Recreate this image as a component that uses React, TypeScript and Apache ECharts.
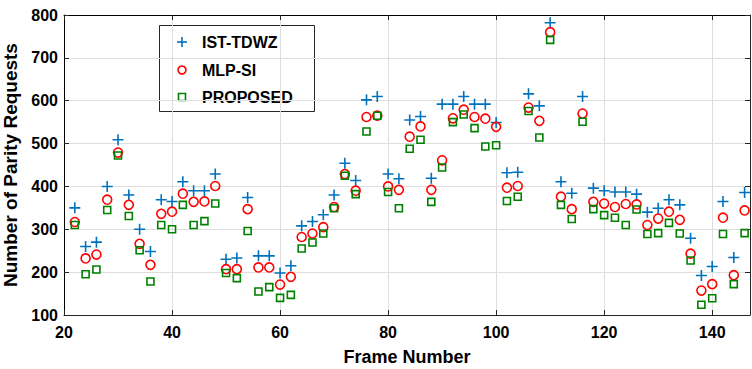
import React, { useEffect, useRef } from "react";
import * as echarts from "echarts";

// Frame numbers (x) shared by all three methods
const frames = [
  22, 24, 26, 28, 30, 32, 34, 36, 38, 40, 42, 44, 46, 48, 50, 52, 54, 56, 58, 60,
  62, 64, 66, 68, 70, 72, 74, 76, 78, 80, 82, 84, 86, 88, 90, 92, 94, 96, 98, 100,
  102, 104, 106, 108, 110, 112, 114, 116, 118, 120, 122, 124, 126, 128, 130, 132,
  134, 136, 138, 140, 142, 144, 146,
];

// Number of parity requests per frame
const istTdwz = [
  350, 260, 270, 400, 509, 380, 300, 248, 369, 365, 411, 390, 390, 429, 230, 233, 374, 238, 238, 198,
  215, 308, 318, 334, 380, 454, 414, 602, 610, 429, 418, 555, 563, 419, 592, 592, 610, 592, 592, 549,
  432, 433, 616, 588, 782, 411, 384, 610, 396, 390, 387, 387, 382, 340, 349, 369,
  357, 279, 192, 213, 365, 234, 386,
];

const mlpSi = [
  317, 232, 241, 369, 479, 357, 266, 217, 336, 341, 383, 364, 365, 401, 207, 207, 347, 211, 211, 171,
  189, 282, 290, 305, 352, 429, 390, 562, 565, 400, 392, 516, 540, 392, 461, 559, 579, 562, 558, 539,
  397, 401, 584, 553, 760, 376, 347, 570, 364, 360, 352, 359, 358, 310, 325, 341,
  322, 243, 157, 172, 327, 193, 344,
];

const proposed = [
  310, 195, 206, 345, 472, 331, 251, 178, 310, 300, 357, 310, 319, 360, 198, 186, 296, 155, 165, 140,
  147, 255, 269, 290, 349, 425, 382, 528, 565, 387, 349, 488, 509, 364, 444, 550, 568, 536, 493, 496,
  366, 376, 576, 514, 742, 357, 324, 551, 347, 333, 327, 310, 346, 289, 291, 315,
  290, 227, 124, 139, 289, 172, 291,
];

const seriesNames = ["IST-TDWZ", "MLP-SI", "PROPOSED"];

const BLUE = "#0072BD";
const RED = "#FF0000";
const GREEN = "#008000";
const AXIS = "#262626";
const GRID = "#dedede";
const FONT = "'Liberation Sans', Arial, Helvetica, sans-serif";

const PLUS = "path://M0,5H10M5,0V10";

const pairs = (ys: number[]) => frames.map((f, i) => [f, ys[i]]);

export default function App() {
  const ref = useRef<HTMLDivElement>(null);

  useEffect(() => {
    document.body.style.margin = "0";
    if (!ref.current) return;
    const chart = echarts.init(ref.current, undefined, { renderer: "svg" });

    const plotLeft = 64;
    const plotTop = 15;
    const plotRight = 750;
    const plotBottom = 315;

    const tickLabel = {
      fontFamily: FONT,
      fontWeight: "bold" as const,
      fontSize: 16,
      color: "#000",
    };

    const legendX = 182;
    const legendRows = [42, 70, 97];
    const legendTextX = 202;

    chart.setOption({
      animation: false,
      backgroundColor: "#fff",
      grid: {
        left: plotLeft,
        top: plotTop,
        right: 752 - plotRight,
        bottom: 369 - plotBottom,
        containLabel: false,
        outerBoundsMode: "none",
      },
      xAxis: [
        {
          type: "value",
          min: 20,
          max: 147,
          interval: 20,
          position: "bottom",
          name: "Frame Number",
          nameLocation: "middle",
          nameGap: 33,
          nameTextStyle: { fontFamily: FONT, fontWeight: "bold", fontSize: 18, color: "#000" },
          axisLine: { show: true, lineStyle: { color: AXIS, width: 1 } },
          axisTick: { show: true, inside: true, length: 5, lineStyle: { color: AXIS } },
          axisLabel: { ...tickLabel, margin: 9, showMaxLabel: false, showMinLabel: true },
          splitLine: { show: true, lineStyle: { color: GRID, width: 1 } },
        },
        {
          type: "value",
          min: 20,
          max: 147,
          interval: 20,
          position: "top",
          axisLine: { show: true, onZero: false, lineStyle: { color: "#000", width: 1 } },
          axisTick: { show: true, inside: true, length: 5, lineStyle: { color: AXIS } },
          axisLabel: { show: false },
          splitLine: { show: false },
        },
      ],
      yAxis: [
        {
          type: "value",
          min: 100,
          max: 800,
          interval: 100,
          position: "left",
          name: "Number of Parity Requests",
          nameLocation: "middle",
          nameGap: 38,
          nameTextStyle: { fontFamily: FONT, fontWeight: "bold", fontSize: 19, color: "#000" },
          axisLine: { show: true, onZero: false, lineStyle: { color: "#000", width: 1 } },
          axisTick: { show: true, inside: true, length: 5, lineStyle: { color: AXIS } },
          axisLabel: { ...tickLabel, margin: 6 },
          splitLine: { show: true, lineStyle: { color: GRID, width: 1 } },
        },
        {
          type: "value",
          min: 100,
          max: 800,
          interval: 100,
          position: "right",
          axisLine: { show: true, onZero: false, lineStyle: { color: AXIS, width: 1 } },
          axisTick: { show: true, inside: true, length: 5, lineStyle: { color: AXIS } },
          axisLabel: { show: false },
          splitLine: { show: false },
        },
      ],
      series: [
        {
          name: seriesNames[0],
          type: "scatter",
          xAxisIndex: 0,
          yAxisIndex: 0,
          symbol: PLUS,
          symbolSize: 11,
          itemStyle: { color: "rgba(0,0,0,0)", borderColor: BLUE, borderWidth: 1.6, opacity: 1 },
          data: pairs(istTdwz),
          z: 3,
        },
        {
          name: seriesNames[1],
          type: "scatter",
          xAxisIndex: 0,
          yAxisIndex: 0,
          symbol: "circle",
          symbolSize: 9,
          itemStyle: { color: "rgba(0,0,0,0)", borderColor: RED, borderWidth: 1.6, opacity: 1 },
          data: pairs(mlpSi),
          z: 4,
        },
        {
          name: seriesNames[2],
          type: "scatter",
          xAxisIndex: 0,
          yAxisIndex: 0,
          symbol: "rect",
          symbolSize: 7,
          itemStyle: { color: "rgba(0,0,0,0)", borderColor: GREEN, borderWidth: 1.6, opacity: 1 },
          data: pairs(proposed),
          z: 5,
        },
      ],
      graphic: [
        {
          type: "group",
          z: 100,
          children: [
            {
              type: "rect",
              shape: { x: 159.5, y: 25.5, width: 155, height: 86 },
              style: { fill: "#fff", stroke: AXIS, lineWidth: 1 },
            },
            // plus marker
            {
              type: "line",
              shape: { x1: legendX - 5, y1: legendRows[0], x2: legendX + 5, y2: legendRows[0] },
              style: { stroke: BLUE, lineWidth: 1.6 },
            },
            {
              type: "line",
              shape: { x1: legendX, y1: legendRows[0] - 5, x2: legendX, y2: legendRows[0] + 5 },
              style: { stroke: BLUE, lineWidth: 1.6 },
            },
            // circle marker
            {
              type: "circle",
              shape: { cx: legendX, cy: legendRows[1], r: 4 },
              style: { fill: "none", stroke: RED, lineWidth: 1.6 },
            },
            // square marker
            {
              type: "rect",
              shape: { x: legendX - 3.5, y: legendRows[2] - 3.5, width: 7, height: 7 },
              style: { fill: "none", stroke: GREEN, lineWidth: 1.6 },
            },
            ...seriesNames.map((name, i) => ({
              type: "text",
              x: legendTextX,
              y: legendRows[i],
              style: {
                text: name,
                fontFamily: FONT,
                fontWeight: "bold",
                fontSize: 16,
                fill: "#000",
                textVerticalAlign: "middle",
                verticalAlign: "middle",
                align: "left",
              },
            })),
          ],
        },
      ],
    });

    return () => chart.dispose();
  }, []);

  return (
    <div
      ref={ref}
      style={{ position: "absolute", left: 0, top: 0, width: 752, height: 369 }}
    />
  );
}
